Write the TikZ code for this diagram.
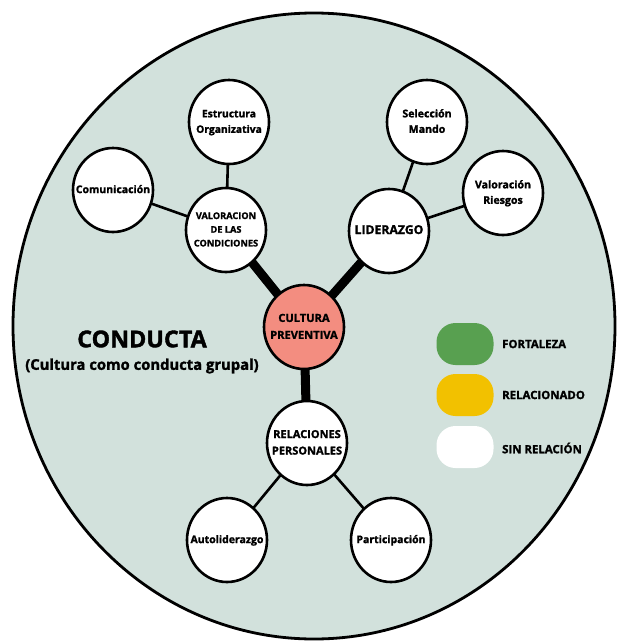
\documentclass[tikz,border=0pt]{standalone}
\usepackage{fontspec}
\setmainfont{Open Sans}[BoldFeatures={FakeBold=1.6}]
\usetikzlibrary{shapes.geometric,backgrounds}
\definecolor{bgc}{RGB}{210,225,220}
\definecolor{salmon}{RGB}{243,141,128}
\definecolor{leggreen}{RGB}{88,160,80}
\definecolor{legyellow}{RGB}{242,193,0}
\newcommand\bt[1]{\makebox[0pt]{\begin{tabular}{@{}c@{}}#1\end{tabular}}}
\newcommand\fs[2]{\fontsize{#1}{#2}\selectfont\bfseries}
\tikzset{
  bub/.style={ellipse, draw=black, line width=2.6pt, fill=white,
    minimum width=80pt, minimum height=84pt, inner sep=0pt},
  thin link/.style={draw=black, line width=2.6pt},
  thick link/.style={draw=black, line width=9pt},
  pill/.style={rectangle, rounded corners=19pt, minimum width=57pt,
    minimum height=42pt, inner sep=0pt},
  legtext/.style={anchor=west, font=\fs{11.4}{13}, inner sep=0pt}
}
\begin{document}
\begin{tikzpicture}[x=1pt,y=1pt]
\useasboundingbox (0,0) rectangle (617,-642);
% nodes
\node[bub] (est) at (229,-122) {\fs{10.3}{15.5}\bt{Estructura\\Organizativa}};
\node[bub] (com) at (113,-190) {\fs{10.5}{15.5}\bt{Comunicación}};
\node[bub] (val) at (226,-230) {\fs{9.2}{13.7}\bt{VALORACION\\DE LAS\\CONDICIONES}};
\node[bub] (sel) at (427,-122) {\fs{10.6}{15.5}\bt{Selección\\Mando}};
\node[bub] (ries) at (503,-193) {\fs{10.6}{15.5}\bt{Valoración\\Riesgos}};
\node[bub] (lid) at (389,-231) {\fs{12.2}{15}\bt{LIDERAZGO}};
\node[bub, fill=salmon] (cul) at (304,-327) {\fs{11.1}{17}\bt{CULTURA\\PREVENTIVA}};
\node[bub] (rel) at (307,-443) {\fs{11}{16.5}\bt{RELACIONES\\PERSONALES}};
\node[bub] (auto) at (227,-540) {\fs{10.5}{15.5}\bt{Autoliderazgo}};
\node[bub] (part) at (391,-540) {\fs{10.5}{15.5}\bt{Participación}};
% titles
\node[inner sep=0pt, font=\fs{23.3}{26}] (cond) at (142,-339) {CONDUCTA};
\node[inner sep=0pt, font=\fs{14.8}{17}] (condsub) at (142,-366) {(Cultura como conducta grupal)};
% legend
\node[pill, fill=leggreen] (lg) at (465,-344) {};
\node[pill, fill=legyellow] (ly) at (465,-395) {};
\node[pill, fill=white] (lw) at (465,-447) {};
\node[legtext] (tg) at (502,-344) {FORTALEZA};
\node[legtext] (ty) at (502,-395) {RELACIONADO};
\node[legtext] (tw) at (502,-448) {SIN RELACIÓN};
% background
\begin{scope}[on background layer]
\draw[line width=2.8pt, fill=bgc] (314,-326) ellipse [x radius=301, y radius=313];
\draw[thin link] (est.center) -- (val.center);
\draw[thin link] (com.center) -- (val.center);
\draw[thin link] (sel.center) -- (lid.center);
\draw[thin link] (ries.center) -- (lid.center);
\draw[thin link] (rel.center) -- (auto.center);
\draw[thin link] (rel.center) -- (part.center);
\draw[thick link] (cul.center) -- (val.center);
\draw[thick link] (cul.center) -- (lid.center);
\draw[thick link] (cul.center) -- (rel.center);
\end{scope}
\end{tikzpicture}
\end{document}
